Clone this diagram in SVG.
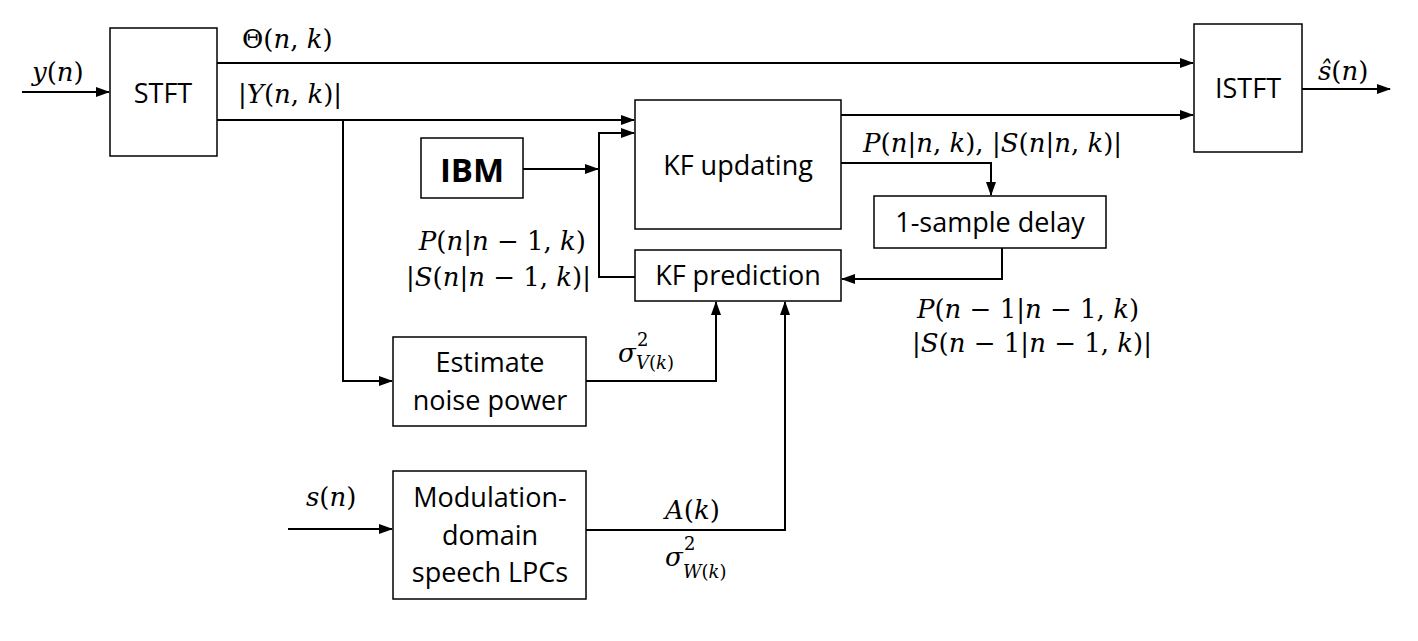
<svg xmlns="http://www.w3.org/2000/svg" width="1418" height="641" viewBox="0 0 1418 641">
<style>
.box{fill:#fff;stroke:#000;stroke-width:1.5}
.lbl{font-family:"Open Sans",sans-serif;font-size:27px;fill:#000;text-anchor:middle}
.m{font-family:"DejaVu Serif",serif;font-size:26px;fill:#000}
.s{font-size:18px}
.i{font-style:italic}
.ln{fill:none;stroke:#000;stroke-width:2}
</style>
<defs>
<marker id="ah" markerUnits="userSpaceOnUse" markerWidth="14" markerHeight="10" refX="13" refY="5" orient="auto">
<path d="M0,0 L14,5 L0,10 Z" fill="#000"/>
</marker>
</defs>
<rect width="1418" height="641" fill="#fff"/>
<g id="connectors">
<line class="ln" x1="22" y1="92" x2="109" y2="92" marker-end="url(#ah)"/>
<line class="ln" x1="217" y1="63" x2="1193" y2="63" marker-end="url(#ah)"/>
<line class="ln" x1="217" y1="120" x2="634" y2="120" marker-end="url(#ah)"/>
<polyline class="ln" points="343,120 343,381 392,381" marker-end="url(#ah)"/>
<line class="ln" x1="523" y1="169" x2="598" y2="169" marker-end="url(#ah)"/>
<polyline class="ln" points="635,277 599,277 599,133 634,133" marker-end="url(#ah)"/>
<line class="ln" x1="841" y1="115" x2="1193" y2="115" marker-end="url(#ah)"/>
<polyline class="ln" points="841,163 991,163 991,195" marker-end="url(#ah)"/>
<polyline class="ln" points="1002,248 1002,279 842,279" marker-end="url(#ah)"/>
<polyline class="ln" points="586,381 716,381 716,302" marker-end="url(#ah)"/>
<line class="ln" x1="288" y1="529" x2="392" y2="529" marker-end="url(#ah)"/>
<polyline class="ln" points="586,530 785,530 785,302" marker-end="url(#ah)"/>
<line class="ln" x1="1302" y1="89" x2="1390" y2="89" marker-end="url(#ah)"/>
</g>
<g id="stft"><rect class="box" x="110" y="28" width="107" height="128"/><text class="lbl" x="163" y="103">STFT</text></g>
<g id="istft"><rect class="box" x="1194" y="24" width="108" height="128"/><text class="lbl" x="1248" y="98">ISTFT</text></g>
<g id="ibm"><rect class="box" x="421" y="138" width="102" height="60"/><text class="lbl" x="472" y="182" style="font-weight:bold;font-size:33px">IBM</text></g>
<g id="kfupd"><rect class="box" x="635" y="100" width="206" height="129"/><text class="lbl" x="738" y="175">KF updating</text></g>
<g id="kfpred"><rect class="box" x="635" y="250" width="206" height="51"/><text class="lbl" x="738" y="285">KF prediction</text></g>
<g id="delay"><rect class="box" x="874" y="196" width="232" height="52"/><text class="lbl" x="990" y="232">1-sample delay</text></g>
<g id="noise"><rect class="box" x="393" y="337" width="193" height="89"/><text class="lbl" x="490" y="372">Estimate</text><text class="lbl" x="490" y="410">noise power</text></g>
<g id="lpc"><rect class="box" x="393" y="471" width="193" height="128"/><text class="lbl" x="490" y="507">Modulation-</text><text class="lbl" x="490" y="545">domain</text><text class="lbl" x="490" y="582">speech LPCs</text></g>
<g id="labels">
<text class="m" x="32" y="81"><tspan class="i">y</tspan>(<tspan class="i">n</tspan>)</text>
<text class="m" x="242" y="48">Θ(<tspan class="i">n</tspan>, <tspan class="i">k</tspan>)</text>
<text class="m" x="238" y="103">|<tspan class="i">Y</tspan>(<tspan class="i">n</tspan>, <tspan class="i">k</tspan>)|</text>
<text class="m" x="1318" y="80"><tspan class="i">ŝ</tspan>(<tspan class="i">n</tspan>)</text>
<text class="m" x="863" y="152"><tspan class="i">P</tspan>(<tspan class="i">n</tspan>|<tspan class="i">n</tspan>, <tspan class="i">k</tspan>), |<tspan class="i">S</tspan>(<tspan class="i">n</tspan>|<tspan class="i">n</tspan>, <tspan class="i">k</tspan>)|</text>
<text class="m" x="586" y="250" text-anchor="end"><tspan class="i">P</tspan>(<tspan class="i">n</tspan>|<tspan class="i">n</tspan> − 1, <tspan class="i">k</tspan>)</text>
<text class="m" x="591" y="286" text-anchor="end">|<tspan class="i">S</tspan>(<tspan class="i">n</tspan>|<tspan class="i">n</tspan> − 1, <tspan class="i">k</tspan>)|</text>
<text class="m" x="1028" y="318" text-anchor="middle"><tspan class="i">P</tspan>(<tspan class="i">n</tspan> − 1|<tspan class="i">n</tspan> − 1, <tspan class="i">k</tspan>)</text>
<text class="m" x="1032" y="352" text-anchor="middle">|<tspan class="i">S</tspan>(<tspan class="i">n</tspan> − 1|<tspan class="i">n</tspan> − 1, <tspan class="i">k</tspan>)|</text>
<text class="m i" x="618" y="362">σ</text>
<text class="m s" x="637" y="346">2</text>
<text class="m s" x="636" y="369"><tspan class="i">V</tspan>(<tspan class="i">k</tspan>)</text>
<text class="m" x="306" y="506"><tspan class="i">s</tspan>(<tspan class="i">n</tspan>)</text>
<text class="m" x="665" y="519"><tspan class="i">A</tspan>(<tspan class="i">k</tspan>)</text>
<text class="m i" x="665" y="566">σ</text>
<text class="m s" x="684" y="550">2</text>
<text class="m s" x="683" y="578"><tspan class="i">W</tspan>(<tspan class="i">k</tspan>)</text>
</g>
</svg>
